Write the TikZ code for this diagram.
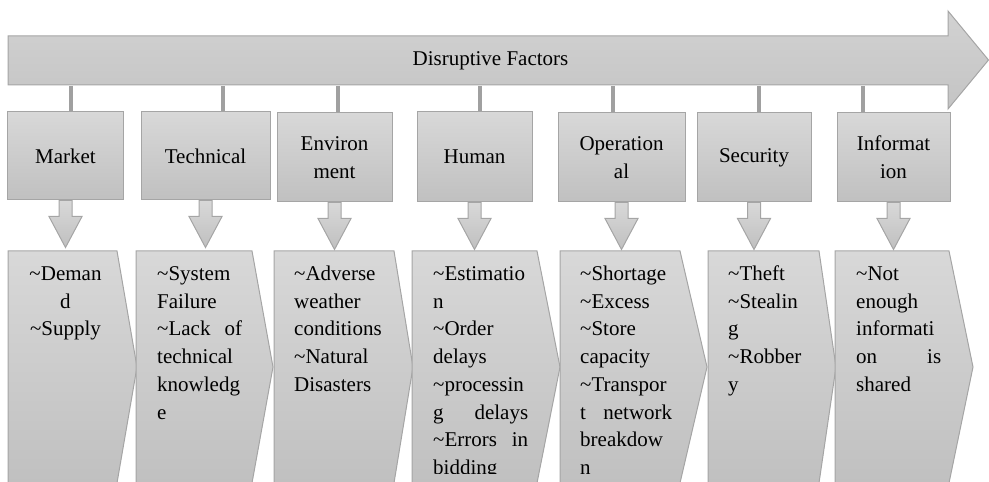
\documentclass[tikz,border=0pt]{standalone}
\usepackage{fontspec}
\setmainfont{Liberation Serif}
\usetikzlibrary{calc}
\definecolor{fTop}{RGB}{216,216,216}
\definecolor{fBot}{RGB}{192,192,192}
\definecolor{aTop}{RGB}{210,210,210}
\definecolor{aBot}{RGB}{196,196,196}
\definecolor{edgec}{RGB}{165,165,165}
\definecolor{stubc}{RGB}{160,160,160}
\newcommand\tld{\textasciitilde}
\newcommand\chevshape[3]{\path[shapebox] (#1,251) -- (#2,251) -- (#3,367) -- (#2,483) -- (#1,483) -- cycle;}
\begin{document}
\begin{tikzpicture}[x=1bp,y=-1bp,
  every node/.style={font=\fontsize{21bp}{27.7bp}\selectfont, text=black},
  shapebox/.style={top color=fTop, bottom color=fBot, draw=edgec, line width=1bp},
  bigarrow/.style={top color=aTop, bottom color=aBot, draw=edgec, line width=1bp},
  catbox/.style={shapebox, inner sep=0pt, align=center},
  stubline/.style={draw=stubc, line width=3.5bp},
  downarr/.style={shapebox, line join=miter},
  chevtext/.style={anchor=base west, inner sep=0pt},
]
\useasboundingbox (0,0) rectangle (989,482);
\clip (0,0) rectangle (989,482);

% main arrow
\path[bigarrow] (8,36) -- (948,36) -- (948,11) -- (988.5,60) -- (948,109) -- (948,85) -- (8,85) -- cycle;
\node[anchor=base] (title) at (490.5,66) {Disruptive Factors};

% stub anchors on the arrow
\coordinate (s1) at (71,86);
\coordinate (s2) at (223,86);
\coordinate (s3) at (338,86);
\coordinate (s4) at (480,86);
\coordinate (s5) at (613,86);
\coordinate (s6) at (759,86);
\coordinate (s7) at (863,86);

% category boxes
\node[catbox, minimum width=115bp, minimum height=88bp] (m1) at (65.5,156) {Market};
\node[catbox, minimum width=129bp, minimum height=88bp] (m2) at (205.5,156) {Technical};
\node[catbox, minimum width=115bp, minimum height=89bp] (m3) at (334.5,157.5) {Environ\\ment};
\node[catbox, minimum width=115bp, minimum height=90bp] (m4) at (474.5,157) {Human};
\node[catbox, minimum width=127bp, minimum height=89bp] (m5) at (621.5,157.5) {Operation\\al};
\node[catbox, minimum width=114bp, minimum height=89bp] (m6) at (754,157.5) {Security};
\node[catbox, minimum width=113bp, minimum height=89bp] (m7) at (893.5,157.5) {Informat\\ion};

\foreach \i in {1,...,7}{
  \draw[stubline] (s\i) -- (s\i |- m\i.north);
  \path[downarr] ($(m\i.south)+(-6.5,0)$) -- ++(0,16) -- ++(-10,0) -- ++(16.5,31) -- ++(16.5,-31) -- ++(-10,0) -- ++(0,-16) -- cycle;
}

% pentagon arrows
\chevshape{8}{117}{137}
\chevshape{136}{252}{273}
\chevshape{274}{394}{413}
\chevshape{412}{537}{560}
\chevshape{560}{680}{707}
\chevshape{708}{819}{836}
\chevshape{835}{949}{973}

\begin{scope}
\clip (0,0) rectangle (989,473);
\node[anchor=base, inner sep=0pt] (t1) at (65.5,280.5) {\parbox[t]{110bp}{\centering \tld Deman\\ d\\ \tld Supply}};
\node[chevtext] (t2) at (157,280.5) {\parbox[t]{85bp}{\raggedright \tld System\\ Failure\\ \tld Lack\hfill of\\ technical\\ knowledg\\ e}};
\node[chevtext] (t3) at (294,280.5) {\parbox[t]{89bp}{\raggedright \tld Adverse\\ weather\\ conditions\\ \tld Natural\\ Disasters}};
\node[chevtext] (t4) at (433,280.5) {\parbox[t]{95bp}{\raggedright \tld Estimatio\\ n\\ \tld Order\\ delays\\ \tld processin\\ g\hfill delays\\ \tld Errors\hfill in\\ bidding}};
\node[chevtext] (t5) at (580,280.5) {\parbox[t]{92bp}{\raggedright \tld Shortage\\ \tld Excess\\ \tld Store\\ capacity\\ \tld Transpor\\ t\hfill network\\ breakdow\\ n}};
\node[chevtext] (t6) at (728,280.5) {\parbox[t]{85bp}{\raggedright \tld Theft\\ \tld Stealin\\ g\\ \tld Robber\\ y}};
\node[chevtext] (t7) at (856,280.5) {\parbox[t]{85bp}{\raggedright \tld Not\\ enough\\ informati\\ on\hfill is\\ shared}};
\end{scope}
\end{tikzpicture}
\end{document}
